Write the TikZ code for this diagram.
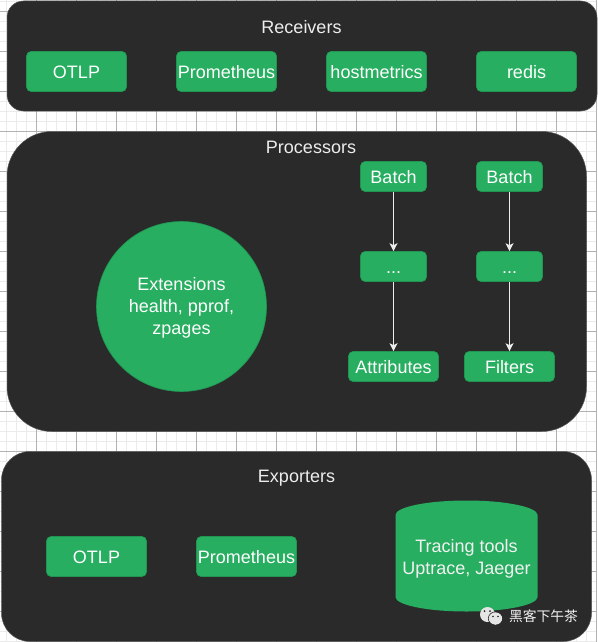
\documentclass[tikz,border=0pt]{standalone}
\usepackage{fontspec}
\setmainfont{Liberation Sans}
\newfontfamily\cjkfont{Noto Sans CJK SC}
\usetikzlibrary{arrows.meta}
\definecolor{panelgray}{HTML}{2A2A2A}
\definecolor{boxgreen}{HTML}{27AE60}
\tikzset{
  panel/.style={fill=panelgray, draw=panelgray!80!white, line width=0.5pt, inner sep=0pt},
  title/.style={text=white!93!black, font=\fontsize{18}{22}\selectfont},
  greenbox/.style={fill=boxgreen, draw=boxgreen!85!black, line width=0.6pt, rounded corners=4.5pt,
    text=white, font=\fontsize{18}{22}\selectfont, inner sep=0pt, align=center},
  wide/.style={greenbox, minimum width=100pt, minimum height=40pt, text height=14.5pt, text depth=0pt},
  small/.style={greenbox, minimum width=66pt, minimum height=30pt, text height=14.5pt, text depth=0pt},
  medium/.style={greenbox, minimum width=90pt, minimum height=30pt, text height=14.5pt, text depth=0pt},
  flow/.style={draw=white!93!black, line width=0.7pt, -{Stealth[length=8pt,width=8pt,inset=2pt]}},
}
\begin{document}
\begin{tikzpicture}[x=1pt,y=-1pt]
\useasboundingbox (0,0) rectangle (597,642);
\fill[white] (0,0) rectangle (597,642);
% grid
\foreach \gridx in {0,...,59} \draw[black!8, line width=1pt] (6.5+10*\gridx,0) -- (6.5+10*\gridx,642);
\foreach \gridy in {0,...,64} \draw[black!8, line width=1pt] (0,1.5+10*\gridy) -- (597,1.5+10*\gridy);
\foreach \gridx in {0,...,14} \draw[black!30, line width=1pt] (36.5+40*\gridx,0) -- (36.5+40*\gridx,642);
\foreach \gridy in {0,...,15} \draw[black!30, line width=1pt] (0,11.5+40*\gridy) -- (597,11.5+40*\gridy);
% panels
\node[panel, minimum width=590pt, minimum height=110pt, rounded corners=16.5pt] (receivers) at (302,56) {};
\node[panel, minimum width=579.5pt, minimum height=300pt, rounded corners=45pt] (processors) at (296.75,281.5) {};
\node[panel, minimum width=590pt, minimum height=190pt, rounded corners=28.5pt] (exporters) at (296.5,546.5) {};
\node[title] (receiverstitle) at (301.5,27) {Receivers};
\node[title] (processorstitle) at (311,147) {Processors};
\node[title] (exporterstitle) at (296.5,478.5) {Exporters};
% receivers
\node[wide] (otlpin) at (76.5,71.5) {OTLP};
\node[wide] (promin) at (226.5,71.5) {Prometheus};
\node[wide] (hostmetrics) at (376.5,71.5) {hostmetrics};
\node[wide] (redis) at (526.5,71.5) {redis};
% processors
\node[greenbox, circle, minimum size=170pt] (extensions) at (181.5,306.5) {\rule{0pt}{16.5pt}Extensions\\health, pprof,\\zpages};
\node[small] (batchleft) at (393.5,176.5) {Batch};
\node[small] (batchright) at (509.5,176.5) {Batch};
\node[small] (dotsleft) at (393.5,266.5) {...};
\node[small] (dotsright) at (509.5,266.5) {...};
\node[medium] (attributes) at (393.5,366.5) {Attributes};
\node[medium] (filters) at (509.5,366.5) {Filters};
\draw[flow] (batchleft) -- (dotsleft);
\draw[flow] (dotsleft) -- (attributes);
\draw[flow] (batchright) -- (dotsright);
\draw[flow] (dotsright) -- (filters);
% exporters
\node[wide] (otlpout) at (96.5,556.5) {OTLP};
\node[wide] (promout) at (246.5,556.5) {Prometheus};
\fill[boxgreen] (395.5,515) arc[start angle=180, end angle=360, x radius=71, y radius=14.5]
  -- (537.5,597) arc[start angle=0, end angle=180, x radius=71, y radius=14.5] -- cycle;
\node[title, align=center, text=white!95!black] (tracing) at (466.5,559) {Tracing tools\\Uptrace, Jaeger};
% watermark
\fill[white!90!black] (487.5,614.5) ellipse[x radius=7.5, y radius=7.5];
\fill[white!90!black] (495.5,618.5) ellipse[x radius=6.8, y radius=6.3];
\draw[panelgray, line width=0.6pt] (495.5,618.5) ellipse[x radius=7.2, y radius=6.7];
\fill[panelgray] (484.5,611) circle[radius=1] (490,611) circle[radius=1] (493,616.5) circle[radius=0.9] (498,616.5) circle[radius=0.9];
\node[text=white!95!black, font=\cjkfont\fontsize{13.8}{16}\selectfont, inner sep=0pt] (watermark) at (543.5,616) {黑客下午茶};
\end{tikzpicture}
\end{document}
